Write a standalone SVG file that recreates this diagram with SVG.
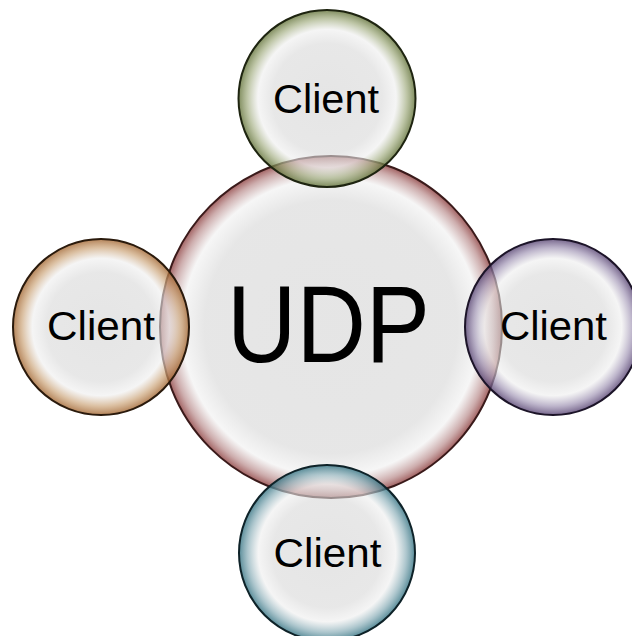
<svg xmlns="http://www.w3.org/2000/svg" width="632" height="636" viewBox="0 0 632 636">
<style>
.c{stroke-width:2}
.t{font-family:"Liberation Sans",Arial,sans-serif;fill:#000}
.cl{font-size:40px}
.udp{font-size:110px}
</style>
<defs>
<radialGradient id="gRed"><stop offset="0" stop-color="#d4d4d4" stop-opacity="0.6"/><stop offset="0.74" stop-color="#d6d6d6" stop-opacity="0.6"/><stop offset="0.87" stop-color="#f0f0f0" stop-opacity="0.6"/><stop offset="0.95" stop-color="#b88a8a" stop-opacity="0.7"/><stop offset="1" stop-color="#8a3a3a" stop-opacity="0.8"/></radialGradient>
<radialGradient id="gGreen"><stop offset="0" stop-color="#d4d4d4" stop-opacity="0.6"/><stop offset="0.62" stop-color="#d8d8d8" stop-opacity="0.6"/><stop offset="0.78" stop-color="#eeeeee" stop-opacity="0.6"/><stop offset="0.9" stop-color="#a3ae82" stop-opacity="0.7"/><stop offset="1" stop-color="#5f6f35" stop-opacity="0.8"/></radialGradient>
<radialGradient id="gOrange"><stop offset="0" stop-color="#d4d4d4" stop-opacity="0.6"/><stop offset="0.62" stop-color="#d8d8d8" stop-opacity="0.6"/><stop offset="0.78" stop-color="#eeeeee" stop-opacity="0.6"/><stop offset="0.9" stop-color="#cca57a" stop-opacity="0.7"/><stop offset="1" stop-color="#a0632e" stop-opacity="0.8"/></radialGradient>
<radialGradient id="gPurple"><stop offset="0" stop-color="#d4d4d4" stop-opacity="0.6"/><stop offset="0.62" stop-color="#d8d8d8" stop-opacity="0.6"/><stop offset="0.78" stop-color="#eeeeee" stop-opacity="0.6"/><stop offset="0.9" stop-color="#a094b4" stop-opacity="0.7"/><stop offset="1" stop-color="#54406f" stop-opacity="0.8"/></radialGradient>
<radialGradient id="gTeal"><stop offset="0" stop-color="#d4d4d4" stop-opacity="0.6"/><stop offset="0.62" stop-color="#d8d8d8" stop-opacity="0.6"/><stop offset="0.78" stop-color="#eeeeee" stop-opacity="0.6"/><stop offset="0.9" stop-color="#8aaeb8" stop-opacity="0.7"/><stop offset="1" stop-color="#2f6f7f" stop-opacity="0.8"/></radialGradient>
</defs>
<rect width="632" height="636" fill="#fff"/>
<g id="udp">
<circle class="c" cx="331" cy="327" r="171" fill="url(#gRed)" stroke="#3a1a1a"/>
<text class="t udp" x="328.5" y="362" text-anchor="middle" textLength="203" lengthAdjust="spacingAndGlyphs">UDP</text>
</g>
<g id="client-top">
<circle class="c" cx="327" cy="98.5" r="88.5" fill="url(#gGreen)" stroke="#1e2410"/>
<text class="t cl" x="326" y="113" text-anchor="middle" textLength="106" lengthAdjust="spacingAndGlyphs">Client</text>
</g>
<g id="client-left">
<circle class="c" cx="101" cy="327" r="88" fill="url(#gOrange)" stroke="#2a1a0c"/>
<text class="t cl" x="101" y="340" text-anchor="middle" textLength="108" lengthAdjust="spacingAndGlyphs">Client</text>
</g>
<g id="client-right">
<circle class="c" cx="553" cy="327" r="88" fill="url(#gPurple)" stroke="#1c1428"/>
<text class="t cl" x="553.5" y="340" text-anchor="middle" textLength="107" lengthAdjust="spacingAndGlyphs">Client</text>
</g>
<g id="client-bottom">
<circle class="c" cx="327" cy="553" r="88" fill="url(#gTeal)" stroke="#0e2228"/>
<text class="t cl" x="327.5" y="567" text-anchor="middle" textLength="108" lengthAdjust="spacingAndGlyphs">Client</text>
</g>
<g id="connectors"/>
</svg>
